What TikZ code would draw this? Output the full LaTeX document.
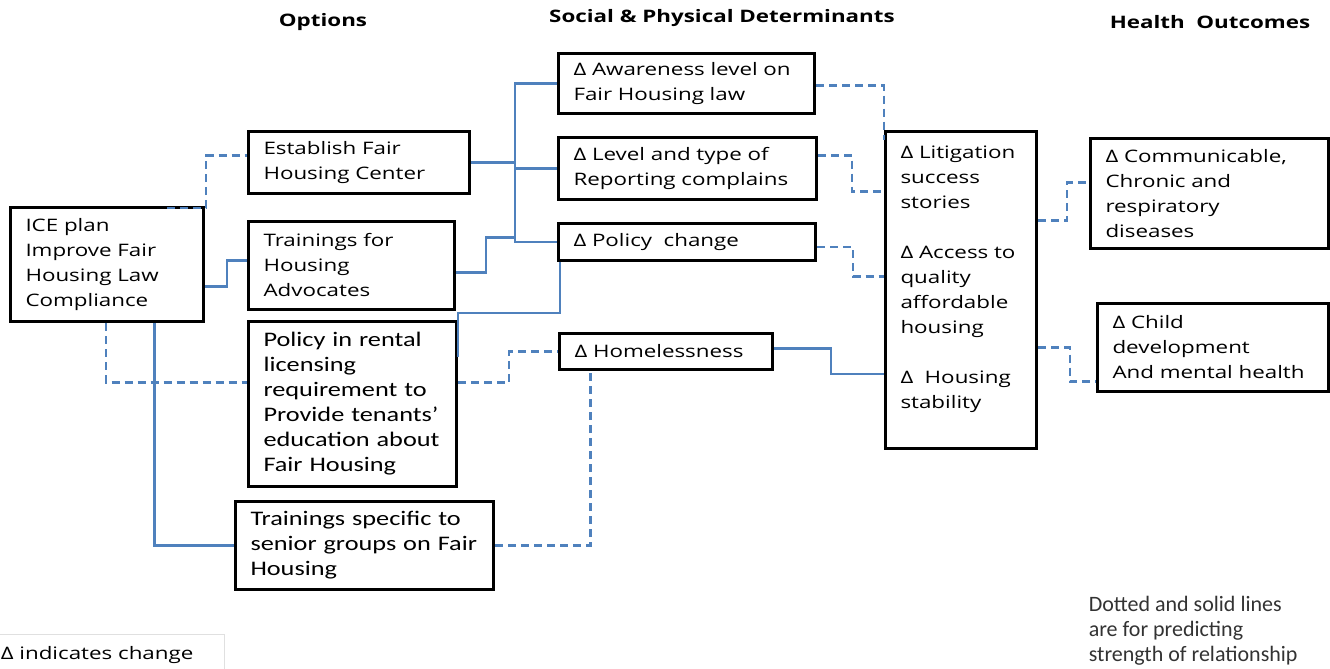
\documentclass[tikz,border=0pt]{standalone}
\usepackage{fontspec}
\setmainfont{Open Sans}
\newfontfamily\boxfont[FakeStretch=1.3]{Open Sans}
\newfontfamily\calfont[FakeStretch=1.27]{Carlito}
\newfontfamily\notefont{Carlito}
\usetikzlibrary{calc, positioning}
\definecolor{linkblue}{RGB}{79,129,189}

\begin{document}
\begin{tikzpicture}[x=0.5pt, y=-0.5pt, thick]
  % Define styles
  \tikzstyle{box} = [rectangle, draw=black, line width=1.5pt, anchor=north west, align=left, inner xsep=7.5pt, inner ysep=0pt, font=\boxfont\fontsize{8.6}{12.5}\selectfont]
  \tikzstyle{calbox} = [box, font=\calfont\fontsize{10.35}{12.5}\selectfont]
  \tikzstyle{head} = [font=\boxfont\bfseries\fontsize{8.6}{11}\selectfont]
  \tikzstyle{link} = [draw=linkblue, line width=1.3pt]
  \tikzstyle{dlink} = [link, dash pattern=on 4pt off 2.5pt]

  \useasboundingbox (0,0) rectangle (1330,669);

  % Column titles
  \node [head] (hopt) at (323,22) {Options};
  \node [head] (hdet) at (722,18) {Social \& Physical Determinants};
  \node [head] (hout) at (1210,22) {Health~ Outcomes};

  % Place nodes
  \node [box, text width=81.5pt, minimum height=57pt] (ice) at (9,206) {ICE plan\\Improve Fair\\Housing Law\\Compliance};
  \node [box, text width=95.5pt, minimum height=31pt] (center) at (247,130) {Establish Fair\\Housing Center};
  \node [box, below=12.5pt of center.south west, anchor=north west, text width=88pt, minimum height=44pt] (advoc) {Trainings for\\Housing\\Advocates};
  \node [calbox, below=4.5pt of advoc.south west, anchor=north west, text width=89pt, minimum height=82.5pt] (rental) {Policy in rental\\licensing\\requirement to\\Provide tenants’\\education about\\Fair Housing};
  \node [calbox, text width=114pt, minimum height=44pt] (senior) at (234,500) {Trainings specific to\\senior groups on Fair\\Housing};

  \node [box, text width=113pt, minimum height=30pt] (aware) at (557,52) {Δ Awareness level on\\Fair Housing law};
  \node [box, below=10.5pt of aware.south west, anchor=north west, text width=114pt, minimum height=31pt] (report) {Δ Level and type of\\Reporting complains};
  \node [box, below=10.5pt of report.south west, anchor=north west, text width=113.5pt, minimum height=18.5pt] (policy) {Δ Policy~ change};
  \node [box, text width=91.5pt, minimum height=18pt] (homeless) at (558,332) {Δ Homelessness};

  \node [box, text width=60.5pt, minimum height=158.5pt] (outcomes) at (884,130) {Δ Litigation\\success\\stories\\[12.5pt]Δ Access to\\quality\\affordable\\housing\\[12.5pt]Δ~ Housing\\stability\\ \mbox{}};
  \node [box, text width=104pt, minimum height=55pt] (comm) at (1089,137) {Δ Communicable,\\Chronic and\\respiratory\\diseases};
  \node [box, text width=100.5pt, minimum height=44pt] (child) at (1096,302) {Δ Child\\development\\And mental health};

  % Notes
  \draw [black!12, line width=0.5pt] (0,634) -| (224,669);
  \node [anchor=west, inner sep=0pt, font=\boxfont\fontsize{8.6}{12.5}\selectfont] (delta) at (0,655) {Δ indicates change};
  \node [anchor=north west, align=left, inner sep=0pt, text=black!80, font=\notefont\fontsize{11}{12.5}\selectfont] (note) at (1088,595) {Dotted and solid lines\\are for predicting\\strength of relationship};

  % Draw edges
  \path [link] (center.east) -- ++(44,0) coordinate (jn);
  \path [link] (aware.west) -| (jn) |- (policy.west);
  \path [link] (report.west) -- (report.west -| jn);
  \path [link] ([yshift=-3.5pt]advoc.east) -- ++(30,0) -- ++(0,-35) -- ++(29,0);
  \path [link] ([yshift=-11pt]ice.east) -- ++(22,0) |- ([yshift=2.5pt]advoc.west);
  \path [link] ([xshift=1.5pt]policy.south west) -- ++(0,51) -| ([yshift=-18.5pt]rental.north east);
  \path [link] ([xshift=23.75pt]ice.south) |- (senior.west);
  \path [link] ([yshift=1.5pt]homeless.east) -- ++(57,0) |- ([yshift=-42pt]outcomes.west);

  \path [dlink] ([xshift=30pt, yshift=-1pt]ice.north) -- ++(39,0) |- ([yshift=3.5pt]center.west);
  \path [dlink] ([xshift=-0.5pt]ice.south) |- ([yshift=10.75pt]rental.west);
  \path [dlink] ([yshift=10.75pt]rental.east) -- ++(51,0) |- (homeless.west);
  \path [dlink] (senior.east) -| ([xshift=-37.75pt]homeless.south);
  \path [dlink] ([yshift=-1pt]aware.east) -| ([yshift=-5pt]outcomes.north west);
  \path [dlink] ([yshift=6.5pt]report.east) -- ++(34,0) |- ([yshift=49.25pt]outcomes.west);
  \path [dlink] ([yshift=-2.5pt]policy.east) -- ++(36,0) |- ([yshift=6.75pt]outcomes.west);
  \path [dlink] ([yshift=34.75pt]outcomes.east) -- ++(29,0) |- ([yshift=5.5pt]comm.west);
  \path [dlink] ([yshift=-28.75pt]outcomes.east) -- ++(32,0) |- ([yshift=-17pt]child.west);

\end{tikzpicture}
\end{document}
